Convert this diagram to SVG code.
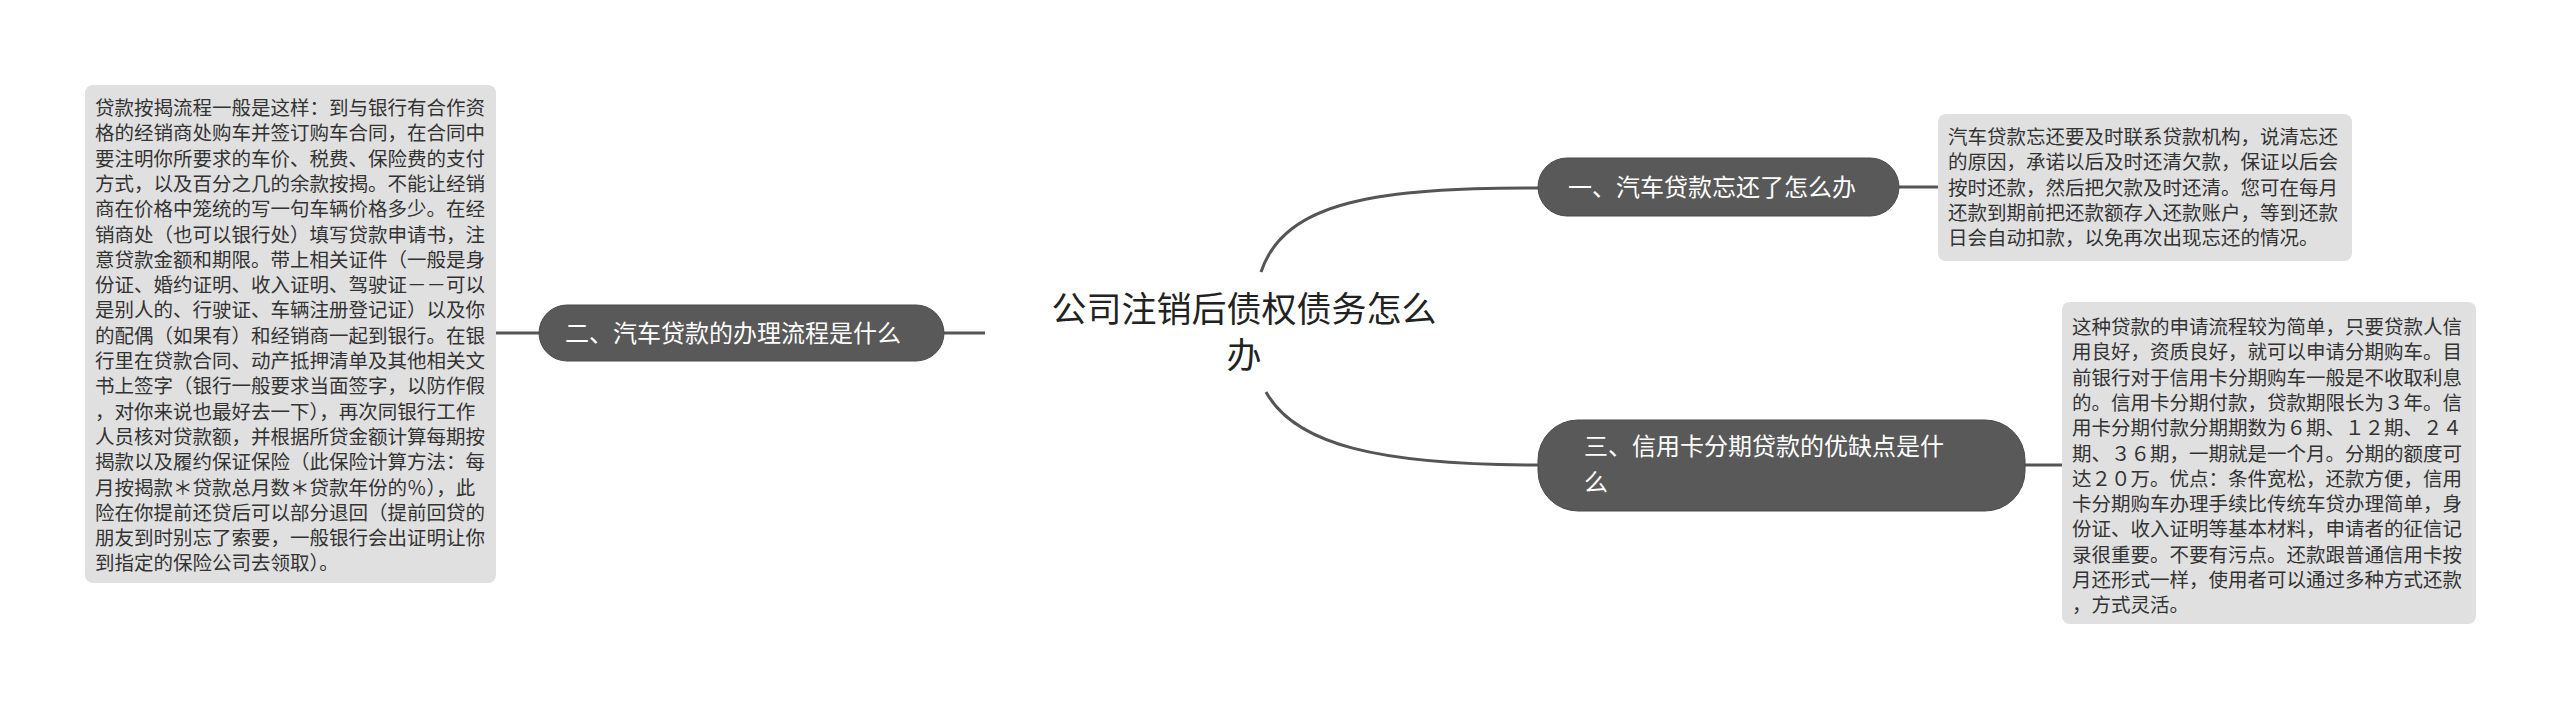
<svg xmlns="http://www.w3.org/2000/svg" width="2560" height="711" viewBox="0 0 2560 711">
<style>
.bg{fill:#ffffff}
.node{fill:#595959;stroke:#4a4a4a;stroke-width:1}
.ntxt{fill:#ffffff;font-family:"Liberation Sans","Noto Sans CJK SC",sans-serif;font-size:24px}
.box{fill:#e0e0e0}
.btxt{fill:#333333;font-family:"Liberation Sans","Noto Sans CJK SC",sans-serif;font-size:19.5px}
.ctxt{fill:#222222;font-family:"Liberation Sans","Noto Sans CJK SC",sans-serif;font-size:35px}
.conn{fill:none;stroke:#555555;stroke-width:3}
</style>
<rect class="bg" width="2560" height="711"/>
<g id="connectors">
<path class="conn" d="M1261,272 C1285,200 1380,188 1538,188"/>
<path class="conn" d="M1266,392 C1295,445 1380,465 1538,465"/>
<path class="conn" d="M985,333 L944,333"/>
<path class="conn" d="M539,333 L496,333"/>
<path class="conn" d="M1899,187 L1938,187"/>
<path class="conn" d="M2025,465 L2062,465"/>
</g>
<g id="center">
<text class="ctxt" text-anchor="middle"><tspan x="1244" y="322">公司注销后债权债务怎么</tspan><tspan x="1244" y="368">办</tspan></text>
</g>
<g id="node1">
<rect class="node" x="1538" y="158" width="361" height="58" rx="29"/>
<text class="ntxt" x="1568" y="196">一、汽车贷款忘还了怎么办</text>
</g>
<g id="node2">
<rect class="node" x="539" y="305" width="405" height="56" rx="28"/>
<text class="ntxt" x="565" y="342">二、汽车贷款的办理流程是什么</text>
</g>
<g id="node3">
<rect class="node" x="1538" y="420" width="487" height="91" rx="40"/>
<text class="ntxt"><tspan x="1584" y="455">三、信用卡分期贷款的优缺点是什</tspan><tspan x="1584" y="491">么</tspan></text>
</g>
<g id="box1">
<rect class="box" x="1938" y="114" width="414" height="147" rx="8"/>
<text class="btxt"><tspan x="1948" y="144">汽车贷款忘还要及时联系贷款机构，说清忘还</tspan><tspan x="1948" y="169">的原因，承诺以后及时还清欠款，保证以后会</tspan><tspan x="1948" y="195">按时还款，然后把欠款及时还清。您可在每月</tspan><tspan x="1948" y="220">还款到期前把还款额存入还款账户，等到还款</tspan><tspan x="1948" y="245">日会自动扣款，以免再次出现忘还的情况。</tspan></text>
</g>
<g id="box2">
<rect class="box" x="85" y="85" width="411" height="498" rx="8"/>
<text class="btxt"><tspan x="95" y="115">贷款按揭流程一般是这样：到与银行有合作资</tspan><tspan x="95" y="140">格的经销商处购车并签订购车合同，在合同中</tspan><tspan x="95" y="166">要注明你所要求的车价、税费、保险费的支付</tspan><tspan x="95" y="191">方式，以及百分之几的余款按揭。不能让经销</tspan><tspan x="95" y="216">商在价格中笼统的写一句车辆价格多少。在经</tspan><tspan x="95" y="242">销商处（也可以银行处）填写贷款申请书，注</tspan><tspan x="95" y="267">意贷款金额和期限。带上相关证件（一般是身</tspan><tspan x="95" y="292">份证、婚约证明、收入证明、驾驶证－－可以</tspan><tspan x="95" y="317">是别人的、行驶证、车辆注册登记证）以及你</tspan><tspan x="95" y="343">的配偶（如果有）和经销商一起到银行。在银</tspan><tspan x="95" y="368">行里在贷款合同、动产抵押清单及其他相关文</tspan><tspan x="95" y="393">书上签字（银行一般要求当面签字，以防作假</tspan><tspan x="95" y="419">，对你来说也最好去一下），再次同银行工作</tspan><tspan x="95" y="444">人员核对贷款额，并根据所贷金额计算每期按</tspan><tspan x="95" y="469">揭款以及履约保证保险（此保险计算方法：每</tspan><tspan x="95" y="495">月按揭款＊贷款总月数＊贷款年份的％），此</tspan><tspan x="95" y="520">险在你提前还贷后可以部分退回（提前回贷的</tspan><tspan x="95" y="545">朋友到时别忘了索要，一般银行会出证明让你</tspan><tspan x="95" y="570">到指定的保险公司去领取）。</tspan></text>
</g>
<g id="box3">
<rect class="box" x="2062" y="302" width="414" height="322" rx="8"/>
<text class="btxt"><tspan x="2072" y="334">这种贷款的申请流程较为简单，只要贷款人信</tspan><tspan x="2072" y="359">用良好，资质良好，就可以申请分期购车。目</tspan><tspan x="2072" y="385">前银行对于信用卡分期购车一般是不收取利息</tspan><tspan x="2072" y="410">的。信用卡分期付款，贷款期限长为３年。信</tspan><tspan x="2072" y="435">用卡分期付款分期期数为６期、１２期、２４</tspan><tspan x="2072" y="461">期、３６期，一期就是一个月。分期的额度可</tspan><tspan x="2072" y="486">达２０万。优点：条件宽松，还款方便，信用</tspan><tspan x="2072" y="511">卡分期购车办理手续比传统车贷办理简单，身</tspan><tspan x="2072" y="536">份证、收入证明等基本材料，申请者的征信记</tspan><tspan x="2072" y="562">录很重要。不要有污点。还款跟普通信用卡按</tspan><tspan x="2072" y="587">月还形式一样，使用者可以通过多种方式还款</tspan><tspan x="2072" y="612">，方式灵活。</tspan></text>
</g>
</svg>
